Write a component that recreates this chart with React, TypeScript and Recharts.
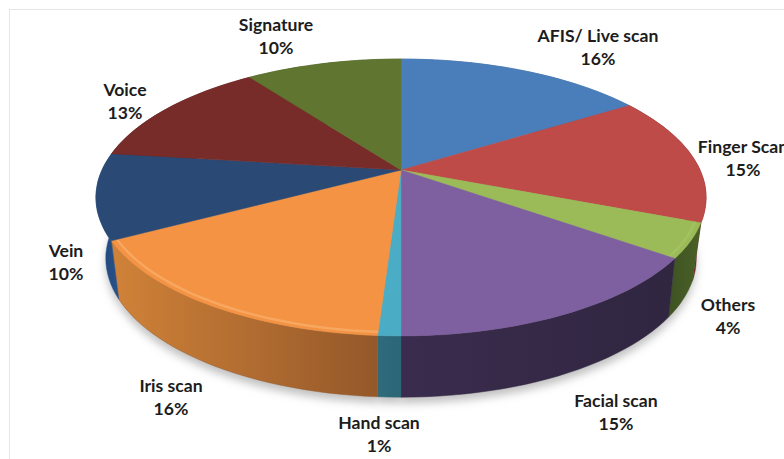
import { Pie, PieChart } from "recharts";

const categories = [
  "AFIS/ Live scan",
  "Finger Scan",
  "Others",
  "Facial scan",
  "Hand scan",
  "Iris scan",
  "Vein",
  "Voice",
  "Signature",
];
const shares = [16, 15, 4, 15, 1, 16, 10, 13, 10];

const topColors = ["#4A7EBB", "#BE4B48", "#9BBB59", "#7E5F9F", "#4AACC5", "#F39343", "#2A4A75", "#772C2A", "#5F7530"];
const wallStart = ["#3A6495", "#7A2A28", "#3E5222", "#3A2C4E", "#2E6B7C", "#D08238", "#1F4474", "#5A201E", "#46581F"];
const wallEnd = ["#3A6495", "#6A1F1F", "#4A6128", "#302640", "#2C6677", "#94582A", "#2A5590", "#5A201E", "#46581F"];
const rimColors = [null, null, "#A9C667", null, null, "#FAB878", null, null, null];

// label centres, kept apart from the data
const labelSpots = [
  [598, 35],
  [743, 146],
  [728, 304],
  [616, 400],
  [379, 422],
  [171, 385],
  [66, 250],
  [125, 89],
  [276, 24],
];

const CX = 401;
const CY = 170;
const RADIUS = 299;
const FONT = "Lato, 'Open Sans', sans-serif";

// perspective of the disc: near edge gets bigger, far edge smaller
const TOP_FACE = { r: 1, s: 133 / 299, p: 0.1985, drop: 0 };
const BOTTOM_FACE = { r: 288 / 299, s: 132 / 299, p: 0.22, drop: 58 };

type Face = typeof TOP_FACE;

function project(angle: number, cx: number, cy: number, radius: number, face: Face, k = 1) {
  const rad = (angle * Math.PI) / 180;
  const u = Math.cos(rad) * k;
  const v = -Math.sin(rad) * k;
  const w = 1 - face.p * v;
  return [cx + (radius * face.r * u) / w, cy + face.drop + (radius * face.s * v) / w];
}

function arcPoints(start: number, end: number, cx: number, cy: number, radius: number, face: Face, k = 1) {
  const steps = Math.max(2, Math.ceil(Math.abs(end - start) / 2));
  const pts: number[][] = [];
  for (let i = 0; i <= steps; i++) {
    pts.push(project(start + ((end - start) * i) / steps, cx, cy, radius, face, k));
  }
  return pts;
}

const toPath = (pts: number[][]) =>
  pts.map((p, i) => `${i ? "L" : "M"}${p[0].toFixed(1)} ${p[1].toFixed(1)}`).join(" ");

function ShadowSlice(props: any) {
  const { startAngle, endAngle, cx, cy, outerRadius, name } = props;
  if (!categories.includes(name)) return null;
  const pts = arcPoints(startAngle, endAngle, cx, cy, outerRadius, BOTTOM_FACE);
  const centre = project(0, cx, cy, 0, BOTTOM_FACE);
  return (
    <path
      d={`${toPath([centre, ...pts])} Z`}
      transform="translate(0 6)"
      fill="#8c8c8c"
      fillOpacity={0.55}
      filter="url(#softShadow)"
    />
  );
}

function WallSlice(props: any) {
  const { startAngle, endAngle, cx, cy, outerRadius, name } = props;
  const i = categories.indexOf(name);
  const top = arcPoints(startAngle, endAngle, cx, cy, outerRadius, TOP_FACE);
  const bottom = arcPoints(startAngle, endAngle, cx, cy, outerRadius, BOTTOM_FACE).reverse();
  return (
    <path
      d={`${toPath([...top, ...bottom])} Z`}
      fill={`url(#wall${i})`}
      stroke={wallEnd[i]}
      strokeWidth={0.5}
    />
  );
}

function TopSlice(props: any) {
  const { startAngle, endAngle, cx, cy, outerRadius, name } = props;
  const i = categories.indexOf(name);
  const rim = arcPoints(startAngle, endAngle, cx, cy, outerRadius, TOP_FACE);
  const inner = arcPoints(startAngle, endAngle, cx, cy, outerRadius, TOP_FACE, 0.982);
  const centre = project(0, cx, cy, 0, TOP_FACE);
  return (
    <g>
      <path d={`${toPath([centre, ...rim])} Z`} fill={topColors[i]} stroke={topColors[i]} strokeWidth={0.5} />
      {rimColors[i] ? (
        <path d={toPath(inner)} fill="none" stroke={rimColors[i] as string} strokeWidth={2.5} strokeOpacity={0.55} />
      ) : null}
    </g>
  );
}

function SliceLabel(props: any) {
  const i = categories.indexOf(props.name);
  const [x, y] = labelSpots[i];
  return (
    <text
      x={x}
      y={y}
      textAnchor="middle"
      dominantBaseline="central"
      fontFamily={FONT}
      fontWeight={700}
      fontSize={17.6}
      fill="#1c1c1c"
    >
      <tspan x={x} y={y}>{props.name}</tspan>
      <tspan x={x} y={y + 22.5}>{`${Math.round(props.percent * 100)}%`}</tspan>
    </text>
  );
}

export default function App() {
  const chartData = categories.map((name, i) => ({ name, value: shares[i] }));
  const pieProps = {
    data: chartData,
    dataKey: "value",
    nameKey: "name",
    cx: CX,
    cy: CY,
    outerRadius: RADIUS,
    startAngle: 90,
    endAngle: -270,
    stroke: "none",
    isAnimationActive: false,
    labelLine: false,
  };

  return (
    <div style={{ position: "absolute", left: 0, top: 0, width: 784, height: 459, overflow: "hidden", background: "#fff" }}>
      <div
        style={{
          position: "absolute",
          left: 9,
          top: 9,
          width: 800,
          height: 480,
          borderLeft: "1.5px solid #e6e6e6",
          borderTop: "1.5px solid #e6e6e6",
        }}
      />
      <div style={{ position: "absolute", left: 0, top: 0 }}>
        <PieChart width={784} height={459} margin={{ top: 0, right: 0, bottom: 0, left: 0 }}>
          <defs>
            <filter id="softShadow" filterUnits="userSpaceOnUse" x="0" y="0" width="784" height="459">
              <feGaussianBlur stdDeviation="4" />
            </filter>
            {categories.map((name, i) => (
              <linearGradient key={name} id={`wall${i}`} x1="0" y1="0" x2="1" y2="0">
                <stop offset="0%" stopColor={wallStart[i]} />
                <stop offset="100%" stopColor={wallEnd[i]} />
              </linearGradient>
            ))}
          </defs>
          <Pie {...pieProps} shape={ShadowSlice} />
          <Pie {...pieProps} shape={WallSlice} />
          <Pie {...pieProps} shape={TopSlice} label={SliceLabel} />
        </PieChart>
      </div>
    </div>
  );
}
